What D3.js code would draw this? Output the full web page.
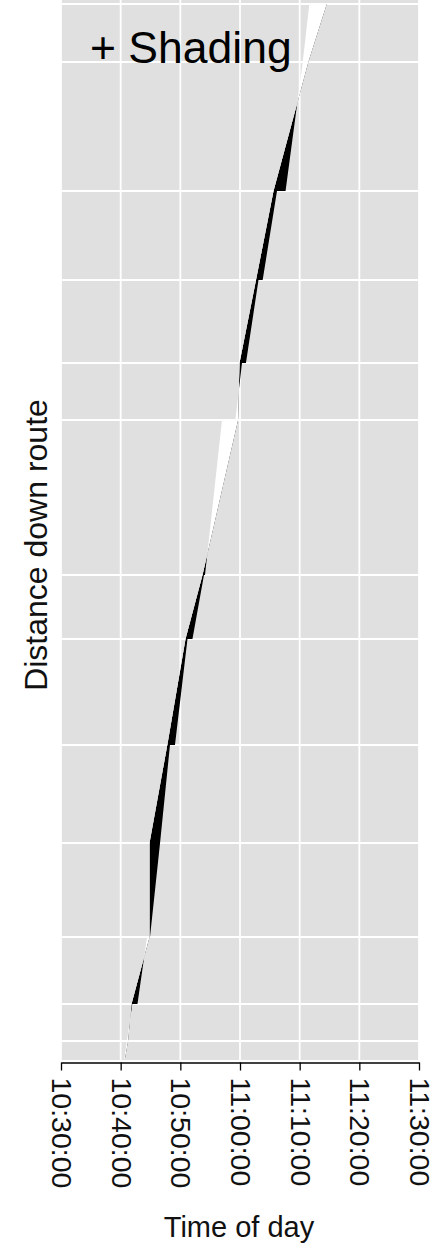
<!DOCTYPE html>
<html>
<head>
<meta charset="utf-8">
<script src="https://cdn.jsdelivr.net/npm/d3@7/dist/d3.min.js"></script>
<style>
  html, body { margin: 0; padding: 0; background: #fff; }
  svg { display: block; font-family: "Liberation Sans", Arial, sans-serif; }
</style>
</head>
<body>
<svg id="chart" width="433" height="1248"></svg>
<script>
// Stops along the route (km from start of route)
const stopDist = [0, 0.40, 1.14, 2.48, 4.36, 6.32, 8.44, 9.72, 12.82, 13.96, 15.62, 17.40, 19.98, 21.14];
// Scheduled time at each stop
const scheduled = ["10:40:39", "10:41:14", "10:41:49", "10:44:50", "10:44:50", "10:47:49", "10:50:52",
                   "10:53:43", "10:59:40", "10:59:55", "11:02:41", "11:05:37", "11:11:27", "11:14:32"];
// Observed arrival and departure at each stop
const arrived   = ["10:40:34", "10:41:02", "10:41:57", "10:44:25", "10:46:36", "10:48:16", "10:51:12",
                   "10:53:58", "10:56:59", "11:00:20", "11:03:06", "11:06:12", "11:10:31", "11:11:37"];
const departed  = ["10:40:34", "10:41:02", "10:42:49", "10:44:55", "10:46:36", "10:49:06", "10:52:02",
                   "10:54:08", "10:59:13", "11:01:00", "11:03:48", "11:07:38", "11:10:31", "11:11:37"];
// Time axis ticks
const timeTicks = ["10:30:00", "10:40:00", "10:50:00", "11:00:00", "11:10:00", "11:20:00", "11:30:00"];
const distDomain = [0, 21.22];

const parse = d3.timeParse("%H:%M:%S");
const fmt = d3.timeFormat("%H:%M:%S");

const margin = { left: 61, top: 0 };
const W = 358, H = 1060;

const svg = d3.select("#chart");
const g = svg.append("g").attr("transform", `translate(${margin.left},${margin.top})`);

const ticks = timeTicks.map(parse);
const x = d3.scaleTime().domain([ticks[0], ticks[ticks.length - 1]]).range([0, W]);
const y = d3.scaleLinear().domain(distDomain).range([H + 1, 0]);

// panel
g.append("rect").attr("width", W).attr("height", H).attr("fill", "#e0e0e0");

const defs = svg.append("defs");
defs.append("clipPath").attr("id", "panel")
  .append("rect").attr("width", W).attr("height", H);

// grid
const grid = g.append("g").attr("clip-path", "url(#panel)");
grid.selectAll("line.v").data(ticks).join("line")
  .attr("class", "v")
  .attr("x1", d => x(d)).attr("x2", d => x(d))
  .attr("y1", 0).attr("y2", H)
  .attr("stroke", "#fff").attr("stroke-width", 1.8);
grid.selectAll("line.h").data(stopDist).join("line")
  .attr("class", "h")
  .attr("x1", 0).attr("x2", W)
  .attr("y1", d => y(d)).attr("y2", d => y(d))
  .attr("stroke", "#fff").attr("stroke-width", 1.8);

// trajectories in pixel space
const schedPts = stopDist.map((d, i) => [x(parse(scheduled[i])), y(d)]);
const actualPts = [];
stopDist.forEach((d, i) => {
  actualPts.push([x(parse(arrived[i])), y(d)]);
  actualPts.push([x(parse(departed[i])), y(d)]);
});

// area enclosed between observed and scheduled trajectories
const between = actualPts.concat(schedPts.slice().reverse());
const line = d3.line();

const yFirst = schedPts[0][1] + 20, yLast = schedPts[schedPts.length - 1][1] - 20;
const extend = pts => [[pts[0][0], yFirst]].concat(pts, [[pts[pts.length - 1][0], yLast]]);
const sExt = extend(schedPts);
const lateSide  = sExt.concat([[W + 100, yLast], [W + 100, yFirst]]);
const earlySide = sExt.concat([[-100, yLast], [-100, yFirst]]);

defs.append("clipPath").attr("id", "late").append("path").attr("d", line(lateSide) + "Z");
defs.append("clipPath").attr("id", "early").append("path").attr("d", line(earlySide) + "Z");

const shade = g.append("g").attr("clip-path", "url(#panel)");
shade.append("g").attr("clip-path", "url(#late)")
  .append("path").attr("d", line(between) + "Z").attr("fill", "#000");
shade.append("g").attr("clip-path", "url(#early)")
  .append("path").attr("d", line(between) + "Z").attr("fill", "#fff");

// bottom axis
const axis = g.append("g")
  .attr("transform", `translate(0,${H + 2.5})`)
  .call(d3.axisBottom(x).tickValues(ticks).tickFormat(fmt).tickSize(8).tickSizeOuter(0));
axis.select(".domain").attr("stroke", "#000").attr("stroke-width", 1.3);
axis.selectAll(".tick line").attr("stroke", "#000").attr("stroke-width", 1.3);
axis.selectAll(".tick text")
  .attr("transform", "rotate(90)")
  .attr("x", 15).attr("y", 0).attr("dy", "0.33em")
  .style("text-anchor", "start")
  .style("font-size", "28.5px")
  .style("font-family", "'Liberation Sans', Arial, sans-serif")
  .attr("fill", "#111");

// axis titles
svg.append("text")
  .attr("x", margin.left + W / 2 - 1).attr("y", 1237)
  .attr("text-anchor", "middle")
  .style("font-size", "29px").attr("fill", "#111")
  .text("Time of day");

svg.append("text")
  .attr("transform", "translate(47,545) rotate(-90)")
  .attr("text-anchor", "middle")
  .style("font-size", "32px").attr("fill", "#111")
  .text("Distance down route");

// panel title
svg.append("text")
  .attr("x", 90).attr("y", 63)
  .style("font-size", "44.5px").attr("fill", "#000")
  .text("+ Shading");
</script>
</body>
</html>
